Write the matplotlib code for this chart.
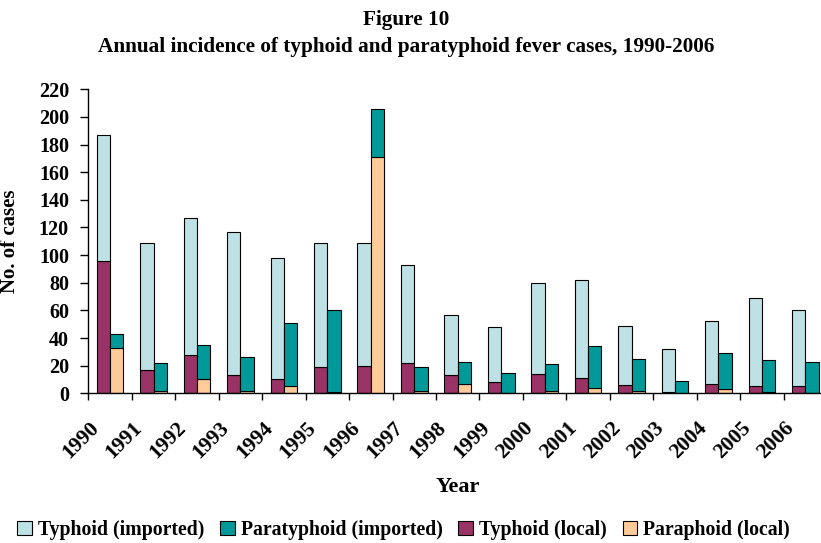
import matplotlib.pyplot as plt
import matplotlib.transforms as mtransforms
from matplotlib.patches import Patch
import numpy as np

# Annual case counts, 1990-2006
years = [str(y) for y in range(1990, 2007)]
typhoid_local = [96, 17, 28, 13, 10, 19, 20, 22, 13, 8, 14, 11, 6, 1, 7, 5, 5]
typhoid_imported = [91, 92, 99, 104, 88, 90, 89, 71, 44, 40, 66, 71, 43, 31, 45, 64, 55]
para_local = [33, 2, 10, 2, 5, 1, 171, 2, 7, 0, 2, 4, 2, 0, 3, 1, 0]
para_imported = [10, 20, 25, 24, 46, 59, 35, 17, 16, 15, 19, 30, 23, 9, 26, 23, 23]

c_typ_imp = '#BDE1E4'
c_para_imp = '#009999'
c_typ_loc = '#993366'
c_para_loc = '#FFCC99'

plt.rcParams['font.family'] = ['Liberation Serif', 'DejaVu Serif']
plt.rcParams['font.weight'] = 'bold'

fig = plt.figure(figsize=(8.21, 5.43), dpi=100)
# axes runs slightly past the right edge of the figure
ax = fig.add_axes([0.1076, 0.2757, 0.8998, 0.5598])

x = np.arange(len(years))
w = 0.307
edge = dict(edgecolor='black', linewidth=0.8)

ax.bar(x - w / 2, typhoid_local, w, color=c_typ_loc, **edge)
ax.bar(x - w / 2, typhoid_imported, w, bottom=typhoid_local, color=c_typ_imp, **edge)
ax.bar(x + w / 2, para_local, w, color=c_para_loc, **edge)
ax.bar(x + w / 2, para_imported, w, bottom=para_local, color=c_para_imp, **edge)

ax.set_xlim(-0.5, len(years) - 0.5)
ax.set_ylim(0, 220)
ax.set_yticks(np.arange(0, 221, 20))
ax.tick_params(axis='y', direction='out', length=6, width=1, pad=8, labelsize=14.5)

# tick marks between categories, labels at category centres
ax.set_xticks(np.arange(-0.5, len(years) - 0.4, 1))
ax.set_xticklabels([])
ax.set_xticks(x, minor=True)
ax.set_xticklabels(years, minor=True, rotation=45, ha='right', va='top', fontsize=15.5)
ax.tick_params(axis='x', which='major', direction='out', length=5, width=1)
ax.tick_params(axis='x', which='minor', length=0, pad=18)
shift = mtransforms.ScaledTranslation(-5 / 72, 0, fig.dpi_scale_trans)
for lbl in ax.get_xticklabels(minor=True):
    lbl.set_transform(lbl.get_transform() + shift)

for s in ['top', 'right']:
    ax.spines[s].set_visible(False)
for s in ['left', 'bottom']:
    ax.spines[s].set_linewidth(1)

ax.set_ylabel('No. of cases', fontsize=15, fontweight='bold')
ax.yaxis.set_label_coords(-0.092, 0.5)
ax.set_xlabel('Year', fontsize=16, fontweight='bold', va='center')
ax.xaxis.set_label_coords(0.5, -0.308)

fig.text(0.4945, 1 - 20 / 543, 'Figure 10', ha='center', va='center',
         fontsize=15.3, fontweight='bold')
fig.text(0.4945, 1 - 47 / 543,
         'Annual incidence of typhoid and paratyphoid fever cases, 1990-2006',
         ha='center', va='center', fontsize=15.3, fontweight='bold')

handles = [Patch(facecolor=c, edgecolor='black', linewidth=0.8)
           for c in [c_typ_imp, c_para_imp, c_typ_loc, c_para_loc]]
labels = ['Typhoid (imported)', 'Paratyphoid (imported)', 'Typhoid (local)',
          'Paraphoid (local)']
fig.legend(handles, labels, loc='center', bbox_to_anchor=(0.4915, 1 - 530 / 543),
           ncol=4, frameon=False, fontsize=14.2, handlelength=0.75, handleheight=0.75,
           handletextpad=0.3, columnspacing=0.8, borderpad=0)

fig.savefig('out.png', dpi=100)
